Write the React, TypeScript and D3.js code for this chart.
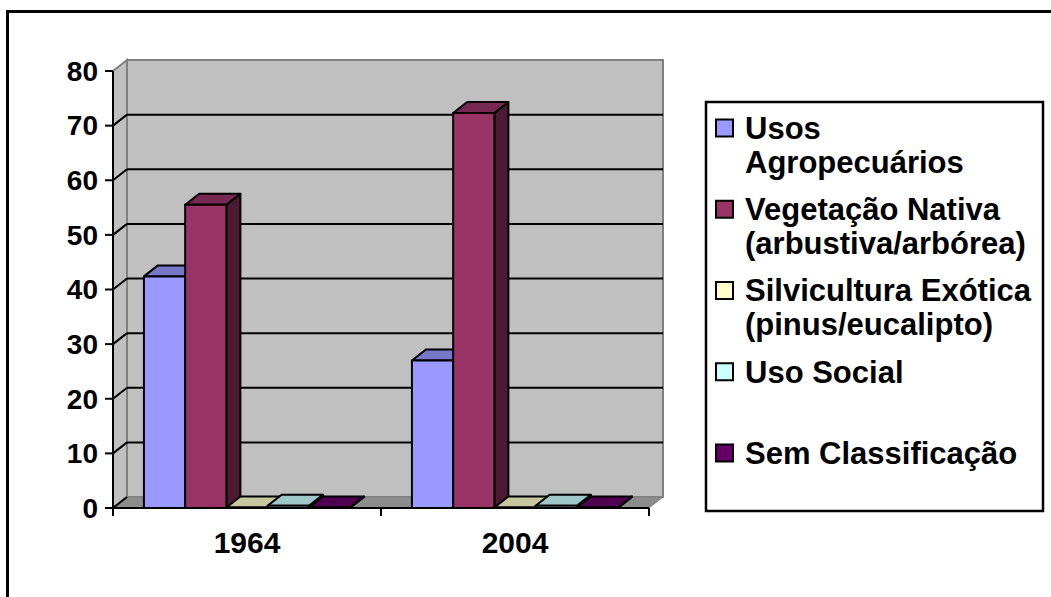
import React from "react";
import * as d3 from "d3";

const categories = ["1964", "2004"];
const seriesNames = [
  ["Usos", "Agropecuários"],
  ["Vegetação Nativa", "(arbustiva/arbórea)"],
  ["Silvicultura Exótica", "(pinus/eucalipto)"],
  ["Uso Social"],
  ["Sem Classificação"],
];
const seriesColors = ["#9999FF", "#993366", "#FFFFCC", "#CCFFFF", "#660066"];
const values1964 = [42.4, 55.5, 0.1, 0.4, 0.1];
const values2004 = [27.0, 72.3, 0.1, 0.4, 0.1];
const yTicks = [0, 10, 20, 30, 40, 50, 60, 70, 80];

const W = 1051;
const H = 597;
const DX = 14;
const DY = -11;
const FONT = "'Liberation Sans', Arial, sans-serif";

function shade(c: string, k: number) {
  const r = d3.rgb(c);
  return d3.rgb(r.r * k, r.g * k, r.b * k).formatHex();
}

export default function App() {
  const data = [values1964, values2004];
  const x0 = 113;
  const x1 = 649;
  const y = d3.scaleLinear().domain([0, 80]).range([508, 71]);
  const xb = d3.scaleBand().domain(categories).range([x0, x1]).paddingInner(0).paddingOuter(0);
  const bw = xb.bandwidth() / 6.5;

  const bars: React.ReactNode[] = [];
  categories.forEach((cat, ci) => {
    data[ci].forEach((v, si) => {
      const bx = (xb(cat) as number) + 0.75 * bw + si * bw;
      const yt = y(v);
      const yb = y(0);
      const col = seriesColors[si];
      const front = `M${bx},${yt}L${bx + bw},${yt}L${bx + bw},${yb}L${bx},${yb}Z`;
      const top = `M${bx},${yt}L${bx + DX},${yt + DY}L${bx + bw + DX},${yt + DY}L${bx + bw},${yt}Z`;
      const side = `M${bx + bw},${yt}L${bx + bw + DX},${yt + DY}L${bx + bw + DX},${yb + DY}L${bx + bw},${yb}Z`;
      bars.push(
        <g key={`${ci}-${si}`} stroke="#000" strokeWidth={2} strokeLinejoin="round">
          <path d={side} fill={shade(col, 0.5)} />
          <path d={top} fill={shade(col, 0.78)} />
          <path d={front} fill={col} />
        </g>
      );
    });
  });

  const legendY0 = 128;
  const legendStep = 81.25;
  const lineH = 34;

  return (
    <svg
      width={W}
      height={H}
      style={{ position: "absolute", left: 0, top: 0, background: "#fff" }}
      fontFamily={FONT}
    >
      <rect x={0} y={0} width={W} height={H} fill="#fff" />
      {/* outer border */}
      <rect x={7.5} y={11.5} width={W + 20} height={H + 20} fill="none" stroke="#000" strokeWidth={3} />

      {/* side wall */}
      <path
        d={`M${x0},${y(80)}L${x0 + DX},${y(80) + DY}L${x0 + DX},${y(0) + DY}L${x0},${y(0)}Z`}
        fill="#C0C0C0"
        stroke="#808080"
        strokeWidth={2}
      />
      {/* back wall */}
      <rect
        x={x0 + DX}
        y={y(80) + DY}
        width={x1 - x0}
        height={y(0) - y(80)}
        fill="#C0C0C0"
        stroke="#808080"
        strokeWidth={2}
      />
      {/* floor */}
      <path
        d={`M${x0},${y(0)}L${x0 + DX},${y(0) + DY}L${x1 + DX},${y(0) + DY}L${x1},${y(0)}Z`}
        fill="#8C8C8C"
        stroke="#808080"
        strokeWidth={1}
      />
      {/* gridlines */}
      {yTicks.filter((t) => t > 0 && t < 80).map((t) => (
        <g key={t} stroke="#000" strokeWidth={2}>
          <line x1={x0 + DX} x2={x1 + DX} y1={y(t) + DY} y2={y(t) + DY} />
          <line x1={x0} x2={x0 + DX} y1={y(t)} y2={y(t) + DY} />
        </g>
      ))}
      <line x1={x0} x2={x0 + DX} y1={y(0)} y2={y(0) + DY} stroke="#000" strokeWidth={2} />

      {bars}

      {/* y axis */}
      <line x1={x0} x2={x0} y1={y(80)} y2={y(0)} stroke="#000" strokeWidth={2} />
      {yTicks.map((t) => (
        <g key={t}>
          <line x1={x0 - 8} x2={x0} y1={y(t)} y2={y(t)} stroke="#000" strokeWidth={2} />
          <text
            x={98}
            y={y(t)}
            dy="0.35em"
            textAnchor="end"
            fontSize={28}
            fontWeight="bold"
            fill="#000"
          >
            {t}
          </text>
        </g>
      ))}
      {/* x axis */}
      <line x1={x0} x2={x1} y1={y(0)} y2={y(0)} stroke="#000" strokeWidth={2} />
      {[x0, x0 + xb.bandwidth(), x1].map((tx, i) => (
        <line key={i} x1={tx} x2={tx} y1={y(0)} y2={y(0) + 8} stroke="#000" strokeWidth={2} />
      ))}
      {categories.map((c) => (
        <text
          key={c}
          x={(xb(c) as number) + xb.bandwidth() / 2}
          y={553}
          textAnchor="middle"
          fontSize={30}
          fontWeight="bold"
          fill="#000"
        >
          {c}
        </text>
      ))}

      {/* legend */}
      <rect x={706} y={102} width={337} height={409} fill="#fff" stroke="#000" strokeWidth={2.5} />
      {seriesNames.map((lines, i) => {
        const cy = legendY0 + i * legendStep;
        return (
          <g key={i}>
            <rect x={716} y={cy - 8.5} width={17} height={17} fill={seriesColors[i]} stroke="#000" strokeWidth={2} />
            {lines.map((ln, j) => (
              <text
                key={j}
                x={745}
                y={cy + j * lineH}
                dy="0.35em"
                fontSize={31}
                fontWeight="bold"
                fill="#000"
              >
                {ln}
              </text>
            ))}
          </g>
        );
      })}
    </svg>
  );
}
